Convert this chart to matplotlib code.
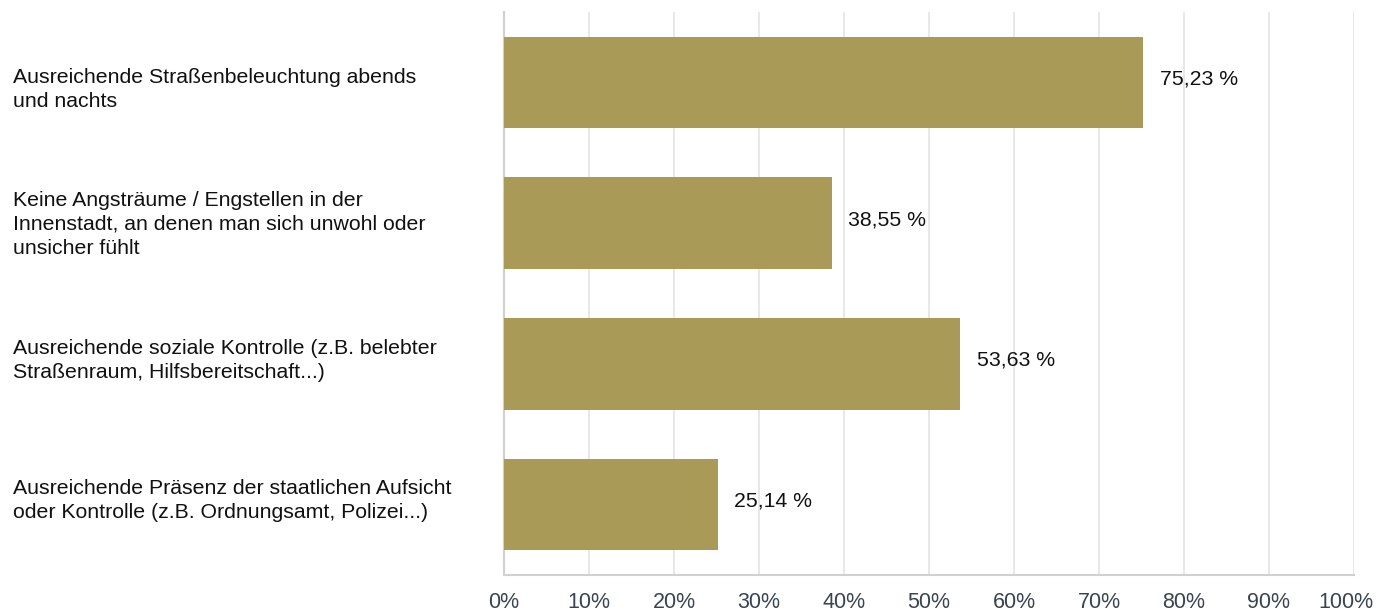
import matplotlib
matplotlib.use("Agg")
import matplotlib.pyplot as plt
from matplotlib.transforms import blended_transform_factory, ScaledTranslation

categories = [
    "Ausreichende Straßenbeleuchtung abends\nund nachts",
    "Keine Angsträume / Engstellen in der\nInnenstadt, an denen man sich unwohl oder\nunsicher fühlt",
    "Ausreichende soziale Kontrolle (z.B. belebter\nStraßenraum, Hilfsbereitschaft...)",
    "Ausreichende Präsenz der staatlichen Aufsicht\noder Kontrolle (z.B. Ordnungsamt, Polizei...)",
]
values = [75.23, 38.55, 53.63, 25.14]
value_labels = ["75,23 %", "38,55 %", "53,63 %", "25,14 %"]
ticks = [0, 10, 20, 30, 40, 50, 60, 70, 80, 90, 100]
tick_labels = [f"{t}%" for t in ticks]

plt.rcParams["font.family"] = ["Liberation Sans", "DejaVu Sans"]

W, H = 1376, 614
fig = plt.figure(figsize=(W / 100, H / 100), dpi=100)
ax = fig.add_axes([504 / W, 1 - 575 / H, (1354 - 504) / W, (575 - 12) / H])

bar_color = "#A99A58"
pos = list(range(len(categories)))
ax.barh(pos, values, height=0.65, color=bar_color, zorder=3)
ax.set_ylim(len(categories) - 0.5, -0.5)
ax.set_xlim(0, 100)

ax.set_xticks(ticks)
ax.set_xticklabels(tick_labels, fontsize=15.5, color="#3a4450")
ax.tick_params(axis="x", length=0, pad=12)
# keep the last tick label inside the canvas
last = ax.get_xticklabels()[-1]
last.set_transform(last.get_transform() + ScaledTranslation(-8 / 100, 0, fig.dpi_scale_trans))
ax.set_yticks([])
ax.grid(axis="x", color="#e6e6e6", linewidth=1.3, zorder=0)

for side in ["top", "right"]:
    ax.spines[side].set_visible(False)
ax.spines["left"].set_color("#d0d0d0")
ax.spines["left"].set_linewidth(1.5)
ax.spines["bottom"].set_color("#d0d0d0")
ax.spines["bottom"].set_linewidth(1.5)

for i, (v, lab) in enumerate(zip(values, value_labels)):
    ax.annotate(lab, (v, i), xytext=(12, 2.5), textcoords="offset points",
                va="center", ha="left", fontsize=15.3, color="#111111")

# vertical nudges (pixels, downward) for the category labels
label_shift_px = [7, 1, -3, -4]
trans = blended_transform_factory(fig.transFigure, ax.transData)
for i, cat in enumerate(categories):
    t = trans + ScaledTranslation(0, -label_shift_px[i] / 100, fig.dpi_scale_trans)
    fig.text(13 / W, i, cat, transform=t, ha="left", va="center",
             fontsize=15.3, color="#111111", linespacing=1.33)

fig.savefig("out.png", dpi=100, facecolor="white")
